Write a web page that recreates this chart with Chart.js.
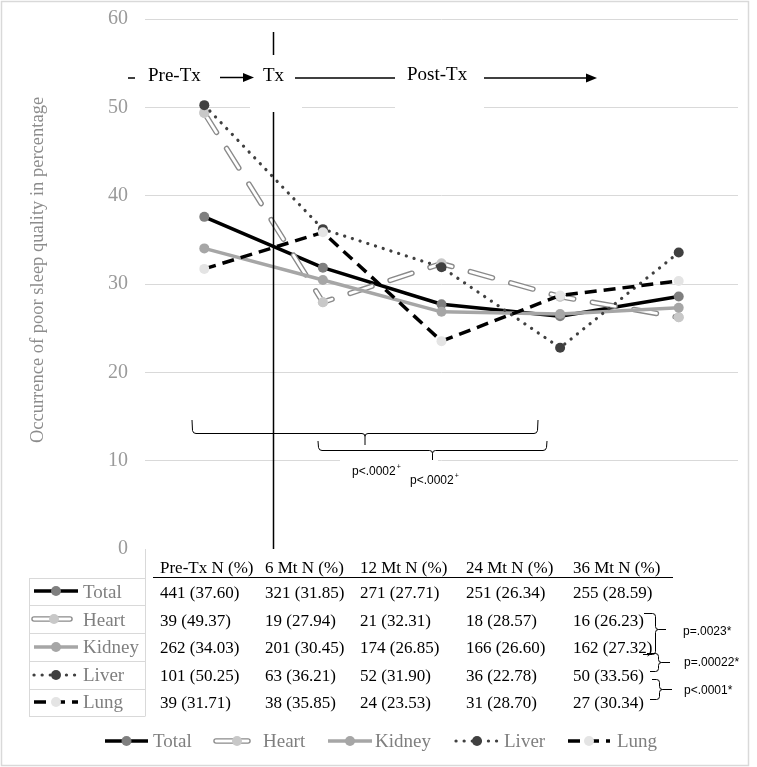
<!DOCTYPE html>
<html><head><meta charset="utf-8">
<script src="https://cdn.jsdelivr.net/npm/chart.js@4.4.1/dist/chart.umd.min.js"></script>
<style>html,body{margin:0;padding:0;background:#fff;}#wrap{position:relative;width:757px;height:767px;}</style>
</head><body><div id="wrap"><canvas id="c"></canvas></div>
<script>
// ---- data ----
const categories = ['Pre-Tx', '6 Mt', '12 Mt', '24 Mt', '36 Mt'];
const tableHeaders = ['Pre-Tx N (%)', '6 Mt N (%)', '12 Mt N (%)', '24 Mt N (%)', '36 Mt N (%)'];
const seriesNames = ['Total', 'Heart', 'Kidney', 'Liver', 'Lung'];
const totalPct  = [37.60, 31.85, 27.71, 26.34, 28.59];
const heartPct  = [49.37, 27.94, 32.31, 28.57, 26.23];
const kidneyPct = [34.03, 30.45, 26.85, 26.60, 27.32];
const liverPct  = [50.25, 36.21, 31.90, 22.78, 33.56];
const lungPct   = [31.71, 35.85, 23.53, 28.70, 30.34];
const totalN  = [441, 321, 271, 251, 255];
const heartN  = [39, 19, 21, 18, 16];
const kidneyN = [262, 201, 174, 166, 162];
const liverN  = [101, 63, 52, 36, 50];
const lungN   = [39, 38, 24, 31, 27];
const yTicks = [0, 10, 20, 30, 40, 50, 60];
const phaseLabels = ['Pre-Tx', 'Tx', 'Post-Tx'];
const yTitle = 'Occurrence of poor sleep quality in percentage';
const timeTests = ['p<.0002', 'p<.0002'];
const organTests = ['p=.0023*', 'p=.00022*', 'p<.0001*'];

const seriesPct = [totalPct, heartPct, kidneyPct, liverPct, lungPct];
const seriesN = [totalN, heartN, kidneyN, liverN, lungN];

// ---- styles ----
const styles = [
  {color: '#000000', width: 3.5, dash: [], cap: 'butt', point: '#7f7f7f'},
  {color: '#8a8a8a', width: 5.5, dash: [23, 19], cap: 'round', point: '#c8c8c8', double: true, inner: 2.8},
  {color: '#a6a6a6', width: 3.5, dash: [], cap: 'butt', point: '#a6a6a6'},
  {color: '#404040', width: 3.2, dash: [0.1, 8], cap: 'round', point: '#404040'},
  {color: '#000000', width: 3.5, dash: [12, 7], cap: 'butt', point: '#e4e4e4'}
];
const SERIF = '"Liberation Serif", "Times New Roman", serif';
const SANS = '"Liberation Sans", Arial, sans-serif';

const datasets = seriesNames.map((name, i) => ({
  label: name,
  data: seriesPct[i],
  borderColor: styles[i].color,
  borderWidth: styles[i].width,
  borderDash: styles[i].dash,
  borderCapStyle: styles[i].cap,
  borderJoinStyle: 'round',
  pointRadius: 5,
  pointHoverRadius: 5,
  pointBackgroundColor: styles[i].point,
  pointBorderColor: styles[i].point,
  pointBorderWidth: 0,
  tension: 0,
  fill: false,
  order: 5 - i
}));

function arrow(ctx, x0, x1, y) {
  ctx.beginPath(); ctx.moveTo(x0, y); ctx.lineTo(x1 - 9, y); ctx.stroke();
  ctx.beginPath(); ctx.moveTo(x1, y); ctx.lineTo(x1 - 11, y - 4.5); ctx.lineTo(x1 - 11, y + 4.5); ctx.closePath(); ctx.fill();
}
function hBrace(ctx, xL, xR, yEnd, yLine, xMid, yTip) {
  const r = 3;
  ctx.beginPath();
  ctx.moveTo(xL, yEnd); ctx.lineTo(xL + 0.5, yLine - r); ctx.quadraticCurveTo(xL + 1, yLine, xL + r + 1, yLine);
  ctx.lineTo(xMid - r, yLine); ctx.quadraticCurveTo(xMid, yLine, xMid, yLine + r); ctx.lineTo(xMid, yTip);
  ctx.moveTo(xMid, yLine + r); ctx.quadraticCurveTo(xMid, yLine, xMid + r, yLine);
  ctx.lineTo(xR - r - 1, yLine); ctx.quadraticCurveTo(xR - 1, yLine, xR - 0.5, yLine - r); ctx.lineTo(xR, yEnd);
  ctx.stroke();
}
function vBrace(ctx, xT, yT, xB, yB, xLine, yMid, xTip) {
  const r = 3;
  ctx.beginPath();
  ctx.moveTo(xT, yT); ctx.lineTo(xLine - r, yT); ctx.quadraticCurveTo(xLine, yT, xLine, yT + r);
  ctx.lineTo(xLine, yMid - r); ctx.quadraticCurveTo(xLine, yMid, xLine + r, yMid); ctx.lineTo(xTip, yMid);
  ctx.moveTo(xLine + r, yMid); ctx.quadraticCurveTo(xLine, yMid, xLine, yMid + r);
  ctx.lineTo(xLine, yB - r); ctx.quadraticCurveTo(xLine, yB, xLine - r, yB); ctx.lineTo(xB, yB);
  ctx.stroke();
}
function drawSample(ctx, i, x0, x1, y, mx) {
  const s = styles[i];
  ctx.save();
  ctx.strokeStyle = s.color; ctx.lineWidth = s.width; ctx.lineCap = s.cap;
  ctx.setLineDash(s.double ? [] : s.dash);
  ctx.beginPath(); ctx.moveTo(x0, y); ctx.lineTo(x1, y); ctx.stroke();
  if (s.double) { ctx.strokeStyle = '#ffffff'; ctx.lineWidth = s.inner; ctx.stroke(); }
  ctx.setLineDash([]);
  ctx.fillStyle = s.point; ctx.beginPath(); ctx.arc(mx, y, 5, 0, Math.PI * 2); ctx.fill();
  ctx.restore();
}

const decor = {
  id: 'decor',
  beforeDatasetsDraw(chart) {
    const ctx = chart.ctx;
    ctx.save(); ctx.fillStyle = '#ffffff';
    ctx.fillRect(250, 56, 52, 55);
    ctx.fillRect(395, 56, 89, 55);
    ctx.fillRect(340, 455, 98, 36);
    ctx.restore();
  },
  afterDatasetDraw(chart, args) {
    if (args.index !== 1) return;
    const ctx = chart.ctx, meta = args.meta, s = styles[1];
    ctx.save();
    ctx.strokeStyle = '#ffffff'; ctx.lineWidth = s.inner; ctx.lineCap = 'round'; ctx.lineJoin = 'round';
    ctx.setLineDash(s.dash);
    ctx.beginPath();
    meta.data.forEach((p, k) => { if (k === 0) ctx.moveTo(p.x, p.y); else ctx.lineTo(p.x, p.y); });
    ctx.stroke();
    ctx.restore();
    meta.data.forEach(p => p.draw(ctx, chart.chartArea));
  },
  afterDatasetsDraw(chart) {
    const ctx = chart.ctx, xs = chart.scales.x, ca = chart.chartArea;
    const px = k => xs.getPixelForValue(k);
    ctx.save();
    // Tx vertical line
    const txX = Math.round(px(0) + 0.58 * (px(1) - px(0))) + 0.5;
    ctx.strokeStyle = '#000'; ctx.fillStyle = '#000'; ctx.lineWidth = 1.5;
    ctx.beginPath(); ctx.moveTo(txX, 32); ctx.lineTo(txX, 55); ctx.moveTo(txX, 112); ctx.lineTo(txX, ca.bottom); ctx.stroke();
    // phase annotations
    ctx.font = '19px ' + SERIF; ctx.textBaseline = 'alphabetic'; ctx.textAlign = 'left';
    ctx.fillText(phaseLabels[0], 148, 81);
    ctx.fillText(phaseLabels[1], 263, 81);
    ctx.fillText(phaseLabels[2], 407, 80);
    ctx.beginPath(); ctx.moveTo(128, 78); ctx.lineTo(135, 78); ctx.stroke();
    arrow(ctx, 220, 254, 77.5);
    ctx.beginPath(); ctx.moveTo(295, 78); ctx.lineTo(395, 78); ctx.stroke();
    arrow(ctx, 484, 597, 78);
    // time-comparison braces
    ctx.lineWidth = 1;
    hBrace(ctx, 192, 538, 420, 433.5, 365, 445);
    hBrace(ctx, 318, 547, 441, 450.5, 432.5, 460);
    ctx.font = '12px ' + SANS; ctx.textBaseline = 'middle';
    ctx.fillText(timeTests[0], 352, 472);
    let w = ctx.measureText(timeTests[0]).width;
    ctx.font = '7px ' + SANS; ctx.fillText('+', 352 + w + 1, 467);
    ctx.font = '12px ' + SANS;
    ctx.fillText(timeTests[1], 410, 481);
    w = ctx.measureText(timeTests[1]).width;
    ctx.font = '7px ' + SANS; ctx.fillText('+', 410 + w + 1, 476);
    ctx.restore();
  },
  afterDraw(chart) {
    const ctx = chart.ctx;
    ctx.save();
    // y title
    ctx.save();
    ctx.translate(38, 270); ctx.rotate(-Math.PI / 2);
    ctx.font = '18.5px ' + SERIF; ctx.fillStyle = '#8c8c8c'; ctx.textAlign = 'center'; ctx.textBaseline = 'middle';
    ctx.fillText(yTitle, 0, 0);
    ctx.restore();
    // data table
    const colX = [160, 265, 360, 466, 573];
    const rowBase = [598, 626, 653, 681, 708];
    const rowMid = [591, 619, 647, 675, 702];
    ctx.font = '17px ' + SERIF; ctx.fillStyle = '#000'; ctx.textAlign = 'left'; ctx.textBaseline = 'alphabetic';
    tableHeaders.forEach((h, c) => ctx.fillText(h, colX[c], 573));
    ctx.strokeStyle = '#000'; ctx.lineWidth = 1.2;
    ctx.beginPath(); ctx.moveTo(153, 577.5); ctx.lineTo(673, 577.5); ctx.stroke();
    seriesNames.forEach((name, r) => {
      seriesN[r].forEach((n, c) => {
        ctx.fillText(n + ' (' + seriesPct[r][c].toFixed(2) + ')', colX[c], rowBase[r]);
      });
    });
    // legend key column
    ctx.strokeStyle = '#d9d9d9'; ctx.lineWidth = 1;
    ctx.beginPath();
    [578, 605, 633, 661, 689, 716].forEach(y => { ctx.moveTo(29, y + 0.5); ctx.lineTo(145, y + 0.5); });
    ctx.moveTo(29.5, 578); ctx.lineTo(29.5, 716.5);
    ctx.moveTo(145.5, 549); ctx.lineTo(145.5, 716.5);
    ctx.stroke();
    ctx.font = '19px ' + SERIF;
    seriesNames.forEach((name, r) => {
      const sx1 = r === 1 ? 70 : 78;
      drawSample(ctx, r, 34, sx1, rowMid[r], r === 1 ? 54 : 56);
      ctx.fillStyle = '#7f7f7f';
      ctx.fillText(name, 83, rowBase[r]);
    });
    // organ braces
    ctx.strokeStyle = '#000'; ctx.lineWidth = 1;
    vBrace(ctx, 644, 613.5, 643, 654.5, 655.5, 629.5, 666);
    vBrace(ctx, 647, 653.5, 650, 671.5, 658.5, 662.5, 670);
    vBrace(ctx, 652, 679.5, 650, 699.5, 659.5, 689.5, 672);
    ctx.font = '12px ' + SANS; ctx.fillStyle = '#000'; ctx.textBaseline = 'middle';
    ctx.fillText(organTests[0], 683, 632);
    ctx.fillText(organTests[1], 684, 663);
    ctx.fillText(organTests[2], 684, 691);
    // bottom legend
    ctx.font = '19px ' + SERIF; ctx.textBaseline = 'alphabetic';
    const sampleX = [[105, 148], [216, 248], [328, 372], [456, 498], [568, 610]];
    const textX = [153, 263, 375, 504, 617];
    seriesNames.forEach((n, i) => {
      drawSample(ctx, i, sampleX[i][0], sampleX[i][1], 741, i === 1 ? 237 : (sampleX[i][0] + sampleX[i][1]) / 2);
      ctx.fillStyle = '#7f7f7f';
      ctx.fillText(n, textX[i], 747);
    });
    // outer border
    ctx.strokeStyle = '#d9d9d9'; ctx.lineWidth = 1.5;
    ctx.strokeRect(1.5, 1.5, 747, 764);
    ctx.restore();
  }
};

new Chart(document.getElementById('c'), {
  type: 'line',
  data: {labels: categories, datasets: datasets},
  options: {
    responsive: true,
    maintainAspectRatio: false,
    animation: false,
    devicePixelRatio: 1,
    layout: {padding: {left: 0, right: 19, top: 19, bottom: 218}},
    plugins: {legend: {display: false}, tooltip: {enabled: false}},
    events: [],
    scales: {
      x: {type: 'category', offset: true, display: false},
      y: {
        min: yTicks[0], max: yTicks[yTicks.length - 1],
        afterBuildTicks: s => { s.ticks = yTicks.map(v => ({value: v})); },
        afterFit: s => { s.width = 145; s.paddingTop = 0; s.paddingBottom = 0; },
        border: {display: false},
        grid: {color: '#d9d9d9', lineWidth: c => (c.tick && c.tick.value === 0 ? 0 : 1), drawTicks: false},
        ticks: {padding: 17, color: '#9a9a9a', font: {family: SERIF, size: 20}}
      }
    }
  },
  plugins: [decor]
});
</script>
</body></html>
